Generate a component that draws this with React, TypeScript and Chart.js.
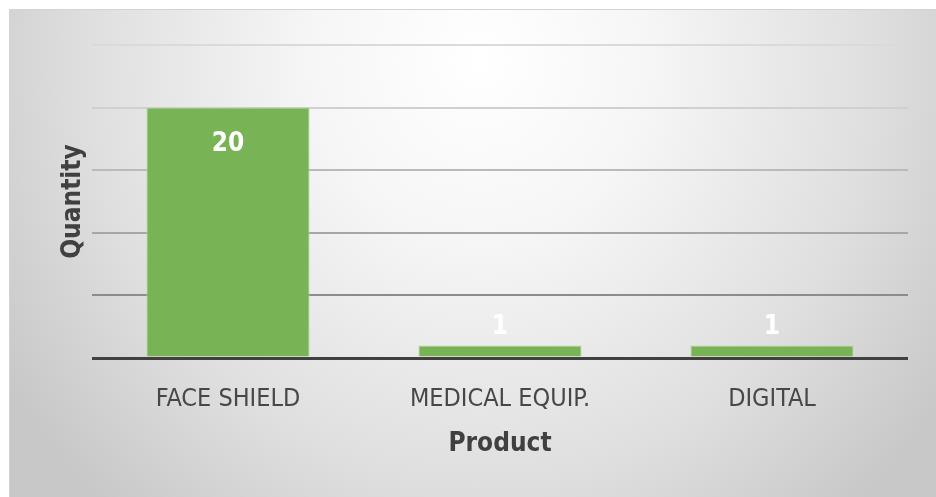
import React, { useEffect, useRef } from "react";
import { Chart, registerables } from "chart.js";

Chart.register(...registerables);

const categories = ["FACE SHIELD", "MEDICAL EQUIP.", "DIGITAL"];
const quantities = [20, 1, 1];
const yMin = 0;
const yMax = 25;
const yStep = 5;
const xTitle = "Product";
const yTitle = "Quantity";

const FONT = "'DejaVu Sans Condensed', 'Liberation Sans Narrow', Lato, sans-serif";

const gridColors: Record<number, string> = {
  0: "#404040",
  5: "#8c8c8c",
  10: "#a6a6a6",
  15: "#bababa",
  20: "#d0d0d0",
  25: "#dadada",
};

const backgroundPlugin = {
  id: "bgbox",
  beforeDraw(chart: any) {
    const { ctx, width, height } = chart;
    ctx.save();
    ctx.fillStyle = "#ffffff";
    ctx.fillRect(0, 0, width, height);
    const x0 = 9, y0 = 9;
    const cx = 480, cy = 60;
    const rx = 560, ry = 600;
    ctx.save();
    ctx.translate(cx, cy);
    ctx.scale(1, ry / rx);
    const g = ctx.createRadialGradient(0, 0, 0, 0, 0, rx);
    g.addColorStop(0, "#ffffff");
    g.addColorStop(0.3, "#f6f6f6");
    g.addColorStop(0.7, "#dfdfdf");
    g.addColorStop(1, "#c8c8c8");
    ctx.fillStyle = g;
    ctx.fillRect(x0 - cx, (y0 - cy) * (rx / ry), (width - x0), (height - y0) * (rx / ry));
    ctx.restore();
    ctx.strokeStyle = "#d4d4d4";
    ctx.lineWidth = 1;
    ctx.beginPath();
    ctx.moveTo(x0 + 0.5, height);
    ctx.lineTo(x0 + 0.5, y0 + 0.5);
    ctx.lineTo(width, y0 + 0.5);
    ctx.stroke();
    ctx.restore();
  },
};

const labelPlugin = {
  id: "barlabels",
  afterDatasetsDraw(chart: any) {
    const { ctx } = chart;
    const meta = chart.getDatasetMeta(0);
    ctx.save();
    ctx.fillStyle = "#ffffff";
    ctx.font = `bold 26px ${FONT}`;
    ctx.textAlign = "center";
    ctx.textBaseline = "middle";
    meta.data.forEach((el: any, i: number) => {
      const h = el.base - el.y;
      const y = h > 60 ? el.y + 37 : el.y - 18;
      ctx.fillText(String(quantities[i]), el.x, y);
    });
    ctx.restore();
  },
};

export default function App() {
  const ref = useRef<HTMLCanvasElement>(null);
  useEffect(() => {
    document.body.style.margin = "0";
    const chart = new Chart(ref.current!, {
      type: "bar",
      data: {
        labels: categories,
        datasets: [
          {
            data: quantities,
            backgroundColor: "#78b455",
            borderColor: "#b5d99c",
            borderWidth: 1,
            categoryPercentage: 1,
            barPercentage: 0.6,
          },
        ],
      },
      plugins: [backgroundPlugin, labelPlugin],
      options: {
        responsive: false,
        animation: false,
        layout: { padding: { left: 0, right: 28, top: 45, bottom: 0 } },
        plugins: { legend: { display: false }, tooltip: { enabled: false } },
        scales: {
          x: {
            grid: { display: false, drawTicks: false },
            border: { display: false },
            ticks: { color: "#474747", font: { family: FONT, size: 25 }, padding: 26 },
            title: {
              display: true,
              text: xTitle,
              color: "#404040",
              font: { family: FONT, size: 26, weight: "bold" },
              padding: { top: 0, bottom: 37 },
            },
            afterFit: (s: any) => {
              s.height = 139;
            },
          },
          y: {
            min: yMin,
            max: yMax,
            ticks: { display: false, stepSize: yStep },
            border: { display: false },
            grid: {
              drawTicks: false,
              color: (c: any) => gridColors[c.tick?.value] ?? "#cccccc",
              lineWidth: (c: any) => (c.tick?.value === 0 ? 3 : 2),
            },
            title: {
              display: true,
              text: yTitle,
              color: "#404040",
              font: { family: FONT, size: 26, weight: "bold" },
              padding: { top: 58, bottom: 0 },
            },
            afterFit: (s: any) => {
              s.width = 92;
            },
          },
        },
      },
    });
    return () => chart.destroy();
  }, []);
  return (
    <div style={{ position: "absolute", left: 0, top: 0 }}>
      <canvas ref={ref} width={936} height={497} style={{ display: "block" }} />
    </div>
  );
}
